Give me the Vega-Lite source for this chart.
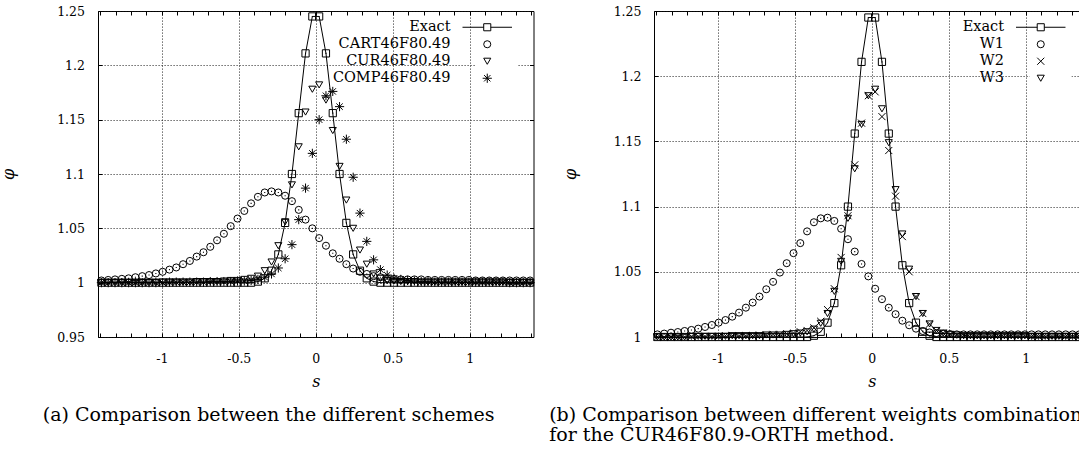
{
  "$schema": "https://vega.github.io/schema/vega-lite/v6.json",
  "background": "white",
  "padding": {"left": 0, "top": 4, "right": 0, "bottom": 0},
  "bounds": "flush",
  "spacing": 120,
  "resolve": {"scale": {"shape": "independent", "x": "independent", "y": "independent"}, "legend": {"shape": "independent"}},
  "config": {
    "font": "DejaVu Serif",
    "view": {"stroke": "black", "strokeWidth": 1},
    "axis": {
      "labelFont": "DejaVu Serif", "labelFontSize": 12.5, "labelColor": "black",
      "titleFont": "DejaVu Serif", "titleFontSize": 16, "titleFontStyle": "italic", "titleFontWeight": "normal", "titleColor": "black",
      "tickColor": "black", "tickWidth": 1, "tickSize": -4,
      "domain": false,
      "gridColor": "#111111", "gridDash": [1.2, 1.8], "gridWidth": 0.8,
      "labelFlush": false, "labelOverlap": false
    },
    "legend": {
      "labelFont": "DejaVu Serif", "labelFontSize": 14.5, "labelColor": "black",
      "labelAlign": "right", "labelOffset": -44, "labelLimit": 0,
      "symbolSize": 50, "symbolStrokeWidth": 1, "symbolStrokeColor": "black",
      "rowPadding": 2, "padding": 4, "fillColor": "white", "strokeColor": null
    },
    "title": {"orient": "bottom", "font": "DejaVu Serif", "fontSize": 19, "fontWeight": "normal", "color": "black", "offset": 16, "frame": "bounds", "lineHeight": 20}
  },
  "datasets": {
    "a": [
      {"s": -1.3921, "Exact": 1, "CART46F80_49": 1.002, "CUR46F80_49": 1, "COMP46F80_49": 1},
      {"s": -1.3479, "Exact": 1, "CART46F80_49": 1.0025, "CUR46F80_49": 1, "COMP46F80_49": 1},
      {"s": -1.3037, "Exact": 1, "CART46F80_49": 1.003, "CUR46F80_49": 1, "COMP46F80_49": 1},
      {"s": -1.2595, "Exact": 1, "CART46F80_49": 1.0035, "CUR46F80_49": 1, "COMP46F80_49": 1},
      {"s": -1.2153, "Exact": 1, "CART46F80_49": 1.004, "CUR46F80_49": 1, "COMP46F80_49": 1},
      {"s": -1.1711, "Exact": 1, "CART46F80_49": 1.005, "CUR46F80_49": 1, "COMP46F80_49": 1},
      {"s": -1.1269, "Exact": 1, "CART46F80_49": 1.006, "CUR46F80_49": 1, "COMP46F80_49": 1},
      {"s": -1.0827, "Exact": 1, "CART46F80_49": 1.007, "CUR46F80_49": 1, "COMP46F80_49": 1},
      {"s": -1.0385, "Exact": 1, "CART46F80_49": 1.0085, "CUR46F80_49": 1, "COMP46F80_49": 1},
      {"s": -0.9943, "Exact": 1, "CART46F80_49": 1.01, "CUR46F80_49": 1.0005, "COMP46F80_49": 1},
      {"s": -0.9501, "Exact": 1, "CART46F80_49": 1.012, "CUR46F80_49": 1.0005, "COMP46F80_49": 1.0005},
      {"s": -0.9059, "Exact": 1, "CART46F80_49": 1.014, "CUR46F80_49": 1.0005, "COMP46F80_49": 1.0005},
      {"s": -0.8617, "Exact": 1, "CART46F80_49": 1.017, "CUR46F80_49": 1.0005, "COMP46F80_49": 1.0005},
      {"s": -0.8175, "Exact": 1, "CART46F80_49": 1.02, "CUR46F80_49": 1.0005, "COMP46F80_49": 1.0005},
      {"s": -0.7733, "Exact": 1, "CART46F80_49": 1.024, "CUR46F80_49": 1.001, "COMP46F80_49": 1.0005},
      {"s": -0.7292, "Exact": 1, "CART46F80_49": 1.028, "CUR46F80_49": 1.001, "COMP46F80_49": 1.0005},
      {"s": -0.685, "Exact": 1, "CART46F80_49": 1.033, "CUR46F80_49": 1.001, "COMP46F80_49": 1.001},
      {"s": -0.6408, "Exact": 1, "CART46F80_49": 1.039, "CUR46F80_49": 1.001, "COMP46F80_49": 1.001},
      {"s": -0.5966, "Exact": 1, "CART46F80_49": 1.045, "CUR46F80_49": 1.0015, "COMP46F80_49": 1.001},
      {"s": -0.5524, "Exact": 1, "CART46F80_49": 1.052, "CUR46F80_49": 1.002, "COMP46F80_49": 1.001},
      {"s": -0.5082, "Exact": 1, "CART46F80_49": 1.059, "CUR46F80_49": 1.002, "COMP46F80_49": 1.0015},
      {"s": -0.464, "Exact": 1, "CART46F80_49": 1.066, "CUR46F80_49": 1.003, "COMP46F80_49": 1.0015},
      {"s": -0.4198, "Exact": 1, "CART46F80_49": 1.073, "CUR46F80_49": 1.004, "COMP46F80_49": 1.002},
      {"s": -0.3756, "Exact": 1.001, "CART46F80_49": 1.079, "CUR46F80_49": 1.006, "COMP46F80_49": 1.003},
      {"s": -0.3314, "Exact": 1.004, "CART46F80_49": 1.083, "CUR46F80_49": 1.011, "COMP46F80_49": 1.005},
      {"s": -0.2872, "Exact": 1.011, "CART46F80_49": 1.084, "CUR46F80_49": 1.019, "COMP46F80_49": 1.008},
      {"s": -0.243, "Exact": 1.026, "CART46F80_49": 1.083, "CUR46F80_49": 1.034, "COMP46F80_49": 1.0135},
      {"s": -0.1988, "Exact": 1.055, "CART46F80_49": 1.08, "CUR46F80_49": 1.056, "COMP46F80_49": 1.022},
      {"s": -0.1546, "Exact": 1.1, "CART46F80_49": 1.075, "CUR46F80_49": 1.09, "COMP46F80_49": 1.035},
      {"s": -0.1105, "Exact": 1.156, "CART46F80_49": 1.067, "CUR46F80_49": 1.125, "COMP46F80_49": 1.058},
      {"s": -0.0663, "Exact": 1.211, "CART46F80_49": 1.058, "CUR46F80_49": 1.157, "COMP46F80_49": 1.087},
      {"s": -0.0221, "Exact": 1.245, "CART46F80_49": 1.05, "CUR46F80_49": 1.178, "COMP46F80_49": 1.119},
      {"s": 0.0221, "Exact": 1.245, "CART46F80_49": 1.041, "CUR46F80_49": 1.182, "COMP46F80_49": 1.15},
      {"s": 0.0663, "Exact": 1.211, "CART46F80_49": 1.034, "CUR46F80_49": 1.168, "COMP46F80_49": 1.172},
      {"s": 0.1105, "Exact": 1.156, "CART46F80_49": 1.027, "CUR46F80_49": 1.14, "COMP46F80_49": 1.176},
      {"s": 0.1546, "Exact": 1.1, "CART46F80_49": 1.022, "CUR46F80_49": 1.107, "COMP46F80_49": 1.162},
      {"s": 0.1988, "Exact": 1.055, "CART46F80_49": 1.017, "CUR46F80_49": 1.076, "COMP46F80_49": 1.132},
      {"s": 0.243, "Exact": 1.026, "CART46F80_49": 1.013, "CUR46F80_49": 1.05, "COMP46F80_49": 1.097},
      {"s": 0.2872, "Exact": 1.011, "CART46F80_49": 1.01, "CUR46F80_49": 1.03, "COMP46F80_49": 1.064},
      {"s": 0.3314, "Exact": 1.004, "CART46F80_49": 1.008, "CUR46F80_49": 1.017, "COMP46F80_49": 1.038},
      {"s": 0.3756, "Exact": 1.001, "CART46F80_49": 1.006, "CUR46F80_49": 1.008, "COMP46F80_49": 1.021},
      {"s": 0.4198, "Exact": 1, "CART46F80_49": 1.005, "CUR46F80_49": 1.004, "COMP46F80_49": 1.012},
      {"s": 0.464, "Exact": 1, "CART46F80_49": 1.004, "CUR46F80_49": 1.002, "COMP46F80_49": 1.007},
      {"s": 0.5082, "Exact": 1, "CART46F80_49": 1.0035, "CUR46F80_49": 1.0015, "COMP46F80_49": 1.004},
      {"s": 0.5524, "Exact": 1, "CART46F80_49": 1.003, "CUR46F80_49": 1.001, "COMP46F80_49": 1.003},
      {"s": 0.5966, "Exact": 1, "CART46F80_49": 1.003, "CUR46F80_49": 1.001, "COMP46F80_49": 1.002},
      {"s": 0.6408, "Exact": 1, "CART46F80_49": 1.003, "CUR46F80_49": 1.001, "COMP46F80_49": 1.0015},
      {"s": 0.685, "Exact": 1, "CART46F80_49": 1.003, "CUR46F80_49": 1.0005, "COMP46F80_49": 1.001},
      {"s": 0.7292, "Exact": 1, "CART46F80_49": 1.0025, "CUR46F80_49": 1.0005, "COMP46F80_49": 1.001},
      {"s": 0.7733, "Exact": 1, "CART46F80_49": 1.0025, "CUR46F80_49": 1.0005, "COMP46F80_49": 1.0005},
      {"s": 0.8175, "Exact": 1, "CART46F80_49": 1.0025, "CUR46F80_49": 1.0005, "COMP46F80_49": 1.0005},
      {"s": 0.8617, "Exact": 1, "CART46F80_49": 1.0025, "CUR46F80_49": 1.0005, "COMP46F80_49": 1.0005},
      {"s": 0.9059, "Exact": 1, "CART46F80_49": 1.0025, "CUR46F80_49": 1.0005, "COMP46F80_49": 1.0005},
      {"s": 0.9501, "Exact": 1, "CART46F80_49": 1.0025, "CUR46F80_49": 1.0005, "COMP46F80_49": 1.0005},
      {"s": 0.9943, "Exact": 1, "CART46F80_49": 1.0025, "CUR46F80_49": 1.0005, "COMP46F80_49": 1.0005},
      {"s": 1.0385, "Exact": 1, "CART46F80_49": 1.002, "CUR46F80_49": 1.0005, "COMP46F80_49": 1.0005},
      {"s": 1.0827, "Exact": 1, "CART46F80_49": 1.002, "CUR46F80_49": 1.0005, "COMP46F80_49": 1.0005},
      {"s": 1.1269, "Exact": 1, "CART46F80_49": 1.002, "CUR46F80_49": 1.0005, "COMP46F80_49": 1.0005},
      {"s": 1.1711, "Exact": 1, "CART46F80_49": 1.002, "CUR46F80_49": 1.0005, "COMP46F80_49": 1.0005},
      {"s": 1.2153, "Exact": 1, "CART46F80_49": 1.002, "CUR46F80_49": 1.0005, "COMP46F80_49": 1.0005},
      {"s": 1.2595, "Exact": 1, "CART46F80_49": 1.002, "CUR46F80_49": 1, "COMP46F80_49": 1},
      {"s": 1.3037, "Exact": 1, "CART46F80_49": 1.002, "CUR46F80_49": 1, "COMP46F80_49": 1},
      {"s": 1.3479, "Exact": 1, "CART46F80_49": 1.002, "CUR46F80_49": 1, "COMP46F80_49": 1},
      {"s": 1.3921, "Exact": 1, "CART46F80_49": 1.002, "CUR46F80_49": 1, "COMP46F80_49": 1}
    ],
    "b": [
      {"s": -1.3921, "Exact": 1, "W1": 1.002, "W2": 1, "W3": 1},
      {"s": -1.3479, "Exact": 1, "W1": 1.0026, "W2": 1, "W3": 1},
      {"s": -1.3037, "Exact": 1, "W1": 1.0033, "W2": 1, "W3": 1},
      {"s": -1.2595, "Exact": 1, "W1": 1.0038, "W2": 1, "W3": 1},
      {"s": -1.2153, "Exact": 1, "W1": 1.0046, "W2": 1, "W3": 1},
      {"s": -1.1711, "Exact": 1, "W1": 1.0054, "W2": 1.0005, "W3": 1.0005},
      {"s": -1.1269, "Exact": 1, "W1": 1.0064, "W2": 1.0005, "W3": 1.0005},
      {"s": -1.0827, "Exact": 1, "W1": 1.0077, "W2": 1.0005, "W3": 1.0005},
      {"s": -1.0385, "Exact": 1, "W1": 1.0092, "W2": 1.0005, "W3": 1.0005},
      {"s": -0.9943, "Exact": 1, "W1": 1.011, "W2": 1.0005, "W3": 1.0005},
      {"s": -0.9501, "Exact": 1, "W1": 1.013, "W2": 1.001, "W3": 1.0005},
      {"s": -0.9059, "Exact": 1, "W1": 1.0156, "W2": 1.001, "W3": 1.001},
      {"s": -0.8617, "Exact": 1, "W1": 1.0187, "W2": 1.001, "W3": 1.001},
      {"s": -0.8175, "Exact": 1, "W1": 1.0225, "W2": 1.001, "W3": 1.001},
      {"s": -0.7733, "Exact": 1, "W1": 1.0264, "W2": 1.001, "W3": 1.001},
      {"s": -0.7292, "Exact": 1, "W1": 1.031, "W2": 1.0015, "W3": 1.001},
      {"s": -0.685, "Exact": 1, "W1": 1.0366, "W2": 1.0015, "W3": 1.0015},
      {"s": -0.6408, "Exact": 1, "W1": 1.0423, "W2": 1.002, "W3": 1.0015},
      {"s": -0.5966, "Exact": 1, "W1": 1.0494, "W2": 1.002, "W3": 1.0015},
      {"s": -0.5524, "Exact": 1, "W1": 1.0566, "W2": 1.0025, "W3": 1.002},
      {"s": -0.5082, "Exact": 1, "W1": 1.0643, "W2": 1.003, "W3": 1.0025},
      {"s": -0.464, "Exact": 1, "W1": 1.072, "W2": 1.004, "W3": 1.003},
      {"s": -0.4198, "Exact": 1, "W1": 1.081, "W2": 1.005, "W3": 1.004},
      {"s": -0.3756, "Exact": 1.001, "W1": 1.088, "W2": 1.007, "W3": 1.006},
      {"s": -0.3314, "Exact": 1.004, "W1": 1.091, "W2": 1.012, "W3": 1.0105},
      {"s": -0.2872, "Exact": 1.011, "W1": 1.0915, "W2": 1.021, "W3": 1.018},
      {"s": -0.243, "Exact": 1.026, "W1": 1.089, "W2": 1.037, "W3": 1.035},
      {"s": -0.1988, "Exact": 1.055, "W1": 1.083, "W2": 1.061, "W3": 1.058},
      {"s": -0.1546, "Exact": 1.1, "W1": 1.075, "W2": 1.093, "W3": 1.091},
      {"s": -0.1105, "Exact": 1.156, "W1": 1.0655, "W2": 1.132, "W3": 1.129},
      {"s": -0.0663, "Exact": 1.211, "W1": 1.056, "W2": 1.164, "W3": 1.163},
      {"s": -0.0221, "Exact": 1.245, "W1": 1.0465, "W2": 1.185, "W3": 1.185},
      {"s": 0.0221, "Exact": 1.245, "W1": 1.037, "W2": 1.188, "W3": 1.19},
      {"s": 0.0663, "Exact": 1.211, "W1": 1.029, "W2": 1.169, "W3": 1.175},
      {"s": 0.1105, "Exact": 1.156, "W1": 1.0225, "W2": 1.143, "W3": 1.149},
      {"s": 0.1546, "Exact": 1.1, "W1": 1.0175, "W2": 1.108, "W3": 1.113},
      {"s": 0.1988, "Exact": 1.055, "W1": 1.0125, "W2": 1.077, "W3": 1.079},
      {"s": 0.243, "Exact": 1.026, "W1": 1.009, "W2": 1.05, "W3": 1.052},
      {"s": 0.2872, "Exact": 1.011, "W1": 1.0064, "W2": 1.031, "W3": 1.031},
      {"s": 0.3314, "Exact": 1.004, "W1": 1.0046, "W2": 1.018, "W3": 1.018},
      {"s": 0.3756, "Exact": 1.001, "W1": 1.0035, "W2": 1.01, "W3": 1.01},
      {"s": 0.4198, "Exact": 1, "W1": 1.003, "W2": 1.005, "W3": 1.005},
      {"s": 0.464, "Exact": 1, "W1": 1.0025, "W2": 1.003, "W3": 1.003},
      {"s": 0.5082, "Exact": 1, "W1": 1.0022, "W2": 1.002, "W3": 1.002},
      {"s": 0.5524, "Exact": 1, "W1": 1.002, "W2": 1.0015, "W3": 1.0015},
      {"s": 0.5966, "Exact": 1, "W1": 1.002, "W2": 1.001, "W3": 1.001},
      {"s": 0.6408, "Exact": 1, "W1": 1.002, "W2": 1.001, "W3": 1.001},
      {"s": 0.685, "Exact": 1, "W1": 1.002, "W2": 1.001, "W3": 1.001},
      {"s": 0.7292, "Exact": 1, "W1": 1.002, "W2": 1.001, "W3": 1.001},
      {"s": 0.7733, "Exact": 1, "W1": 1.002, "W2": 1.001, "W3": 1.001},
      {"s": 0.8175, "Exact": 1, "W1": 1.002, "W2": 1.001, "W3": 1.001},
      {"s": 0.8617, "Exact": 1, "W1": 1.002, "W2": 1.001, "W3": 1.001},
      {"s": 0.9059, "Exact": 1, "W1": 1.002, "W2": 1.001, "W3": 1.001},
      {"s": 0.9501, "Exact": 1, "W1": 1.002, "W2": 1.001, "W3": 1.001},
      {"s": 0.9943, "Exact": 1, "W1": 1.002, "W2": 1.001, "W3": 1.001},
      {"s": 1.0385, "Exact": 1, "W1": 1.002, "W2": 1.0005, "W3": 1.0005},
      {"s": 1.0827, "Exact": 1, "W1": 1.002, "W2": 1.0005, "W3": 1.0005},
      {"s": 1.1269, "Exact": 1, "W1": 1.002, "W2": 1.0005, "W3": 1.0005},
      {"s": 1.1711, "Exact": 1, "W1": 1.002, "W2": 1.0005, "W3": 1.0005},
      {"s": 1.2153, "Exact": 1, "W1": 1.002, "W2": 1.0005, "W3": 1.0005},
      {"s": 1.2595, "Exact": 1, "W1": 1.002, "W2": 1.0005, "W3": 1.0005},
      {"s": 1.3037, "Exact": 1, "W1": 1.002, "W2": 1.0005, "W3": 1.0005},
      {"s": 1.3479, "Exact": 1, "W1": 1.002, "W2": 1.0005, "W3": 1.0005},
      {"s": 1.3921, "Exact": 1, "W1": 1.002, "W2": 1.0005, "W3": 1.0005}
    ]
  },
  "hconcat": [
    {
      "width": 435.5,
      "height": 326,
      "data": {"name": "a"},
      "transform": [{"fold": ["Exact", "CART46F80_49", "CUR46F80_49", "COMP46F80_49"], "as": ["series", "phi"]}],
      "title": {"text": "(a) Comparison between the different schemes", "anchor": "middle"},
      "layer": [
        {
          "transform": [{"filter": "datum.series === 'Exact'"}],
          "mark": {"type": "line", "color": "black", "strokeWidth": 1, "clip": true},
          "encoding": {
            "x": {"field": "s", "type": "quantitative", "scale": {"domain": [-1.4142, 1.4142], "nice": false, "zero": false},
              "axis": {"orient": "bottom", "title": "s", "titlePadding": 9,
                "values": [-1.4, -1.3, -1.2, -1.1, -1, -0.9, -0.8, -0.7, -0.6, -0.5, -0.4, -0.3, -0.2, -0.1, 0, 0.1, 0.2, 0.3, 0.4, 0.5, 0.6, 0.7, 0.8, 0.9, 1, 1.1, 1.2, 1.3, 1.4],
                "labelExpr": "abs(datum.value*2-round(datum.value*2))<0.001 ? (datum.value<0 ? '-'+format(-datum.value,'~g') : format(datum.value,'~g')) : ''",
                "grid": true,
                "gridOpacity": {"condition": {"test": "abs(datum.value*2-round(datum.value*2))<0.001", "value": 1}, "value": 0},
                "labelPadding": 19}},
            "y": {"field": "phi", "type": "quantitative", "scale": {"domain": [0.95, 1.25], "nice": false, "zero": false},
              "axis": {"orient": "left", "title": "φ", "titlePadding": 40,
                "values": [0.95, 1, 1.05, 1.1, 1.15, 1.2, 1.25],
                "labelExpr": "format(datum.value,'~g')",
                "grid": true, "labelPadding": 17.5}}
          }
        },
        {
          "transform": [{"filter": "datum.series !== 'Exact'"}],
          "mark": {"type": "point", "filled": false, "color": "black", "strokeWidth": 1, "size": 50, "opacity": 1},
          "encoding": {
            "x": {"field": "s", "type": "quantitative",
              "axis": {"orient": "top", "title": null, "labels": false, "grid": false,
                "values": [-1.4, -1.3, -1.2, -1.1, -1, -0.9, -0.8, -0.7, -0.6, -0.5, -0.4, -0.3, -0.2, -0.1, 0, 0.1, 0.2, 0.3, 0.4, 0.5, 0.6, 0.7, 0.8, 0.9, 1, 1.1, 1.2, 1.3, 1.4]}},
            "y": {"field": "phi", "type": "quantitative",
              "axis": {"orient": "right", "title": null, "labels": false, "grid": false,
                "values": [0.95, 1, 1.05, 1.1, 1.15, 1.2, 1.25]}},
            "shape": {"field": "series", "type": "nominal",
              "scale": {"domain": ["Exact", "CART46F80_49", "CUR46F80_49", "COMP46F80_49"],
                "range": ["M-7,0H-1M1,0H7M-1,-1H1V1H-1Z", "circle", "triangle-down", "M-1.3,0H1.3M0,-1.3V1.3M-0.9,-0.9L0.9,0.9M-0.9,0.9L0.9,-0.9"]},
              "legend": {"title": null, "orient": "none", "legendX": 378, "legendY": 5,
                "labelExpr": "replace(datum.label,'_','.')"}}
          }
        },
        {
          "transform": [{"filter": "datum.series === 'Exact'"}],
          "mark": {"type": "point", "shape": "square", "filled": false, "color": "black", "strokeWidth": 1, "size": 52, "opacity": 1},
          "encoding": {
            "x": {"field": "s", "type": "quantitative", "axis": null},
            "y": {"field": "phi", "type": "quantitative", "axis": null}
          }
        },
        {
          "transform": [{"filter": "datum.series === 'Exact' || datum.series === 'CART46F80_49'"}],
          "mark": {"type": "point", "shape": "square", "filled": true, "color": "black", "size": 1.2, "opacity": 1},
          "encoding": {
            "x": {"field": "s", "type": "quantitative", "axis": null},
            "y": {"field": "phi", "type": "quantitative", "axis": null}
          }
        }
      ]
    },
    {
      "width": 435.5,
      "height": 326,
      "data": {"name": "b"},
      "transform": [{"fold": ["Exact", "W1", "W2", "W3"], "as": ["series", "phi"]}],
      "title": {"text": ["(b) Comparison between different weights combinations", "for the CUR46F80.9-ORTH method."], "anchor": "start", "dx": -13},
      "layer": [
        {
          "transform": [{"filter": "datum.series === 'Exact'"}],
          "mark": {"type": "line", "color": "black", "strokeWidth": 1, "clip": true},
          "encoding": {
            "x": {"field": "s", "type": "quantitative", "scale": {"domain": [-1.4142, 1.4142], "nice": false, "zero": false},
              "axis": {"orient": "bottom", "title": "s", "titlePadding": 9,
                "values": [-1.4, -1.3, -1.2, -1.1, -1, -0.9, -0.8, -0.7, -0.6, -0.5, -0.4, -0.3, -0.2, -0.1, 0, 0.1, 0.2, 0.3, 0.4, 0.5, 0.6, 0.7, 0.8, 0.9, 1, 1.1, 1.2, 1.3, 1.4],
                "labelExpr": "abs(datum.value*2-round(datum.value*2))<0.001 ? (datum.value<0 ? '-'+format(-datum.value,'~g') : format(datum.value,'~g')) : ''",
                "grid": true,
                "gridOpacity": {"condition": {"test": "abs(datum.value*2-round(datum.value*2))<0.001", "value": 1}, "value": 0},
                "labelPadding": 19}},
            "y": {"field": "phi", "type": "quantitative", "scale": {"domain": [1, 1.25], "nice": false, "zero": false},
              "axis": {"orient": "left", "title": "φ", "titlePadding": 35,
                "values": [1, 1.05, 1.1, 1.15, 1.2, 1.25],
                "labelExpr": "format(datum.value,'~g')",
                "grid": true, "labelPadding": 17}}
          }
        },
        {
          "transform": [{"filter": "datum.series !== 'Exact'"}],
          "mark": {"type": "point", "filled": false, "color": "black", "strokeWidth": 1, "size": 50, "opacity": 1},
          "encoding": {
            "x": {"field": "s", "type": "quantitative",
              "axis": {"orient": "top", "title": null, "labels": false, "grid": false,
                "values": [-1.4, -1.3, -1.2, -1.1, -1, -0.9, -0.8, -0.7, -0.6, -0.5, -0.4, -0.3, -0.2, -0.1, 0, 0.1, 0.2, 0.3, 0.4, 0.5, 0.6, 0.7, 0.8, 0.9, 1, 1.1, 1.2, 1.3, 1.4]}},
            "y": {"field": "phi", "type": "quantitative",
              "axis": {"orient": "right", "title": null, "labels": false, "grid": false, "ticks": false,
                "values": [1, 1.05, 1.1, 1.15, 1.2, 1.25]}},
            "shape": {"field": "series", "type": "nominal",
              "scale": {"domain": ["Exact", "W1", "W2", "W3"],
                "range": ["M-7,0H-1M1,0H7M-1,-1H1V1H-1Z", "circle", "M-1,-1L1,1M-1,1L1,-1", "triangle-down"]},
              "legend": {"title": null, "orient": "none", "legendX": 375.5, "legendY": 5}}
          }
        },
        {
          "transform": [{"filter": "datum.series === 'Exact'"}],
          "mark": {"type": "point", "shape": "square", "filled": false, "color": "black", "strokeWidth": 1, "size": 52, "opacity": 1},
          "encoding": {
            "x": {"field": "s", "type": "quantitative", "axis": null},
            "y": {"field": "phi", "type": "quantitative", "axis": null}
          }
        },
        {
          "transform": [{"filter": "datum.series === 'Exact' || datum.series === 'W1'"}],
          "mark": {"type": "point", "shape": "square", "filled": true, "color": "black", "size": 1.2, "opacity": 1},
          "encoding": {
            "x": {"field": "s", "type": "quantitative", "axis": null},
            "y": {"field": "phi", "type": "quantitative", "axis": null}
          }
        }
      ]
    }
  ]
}
